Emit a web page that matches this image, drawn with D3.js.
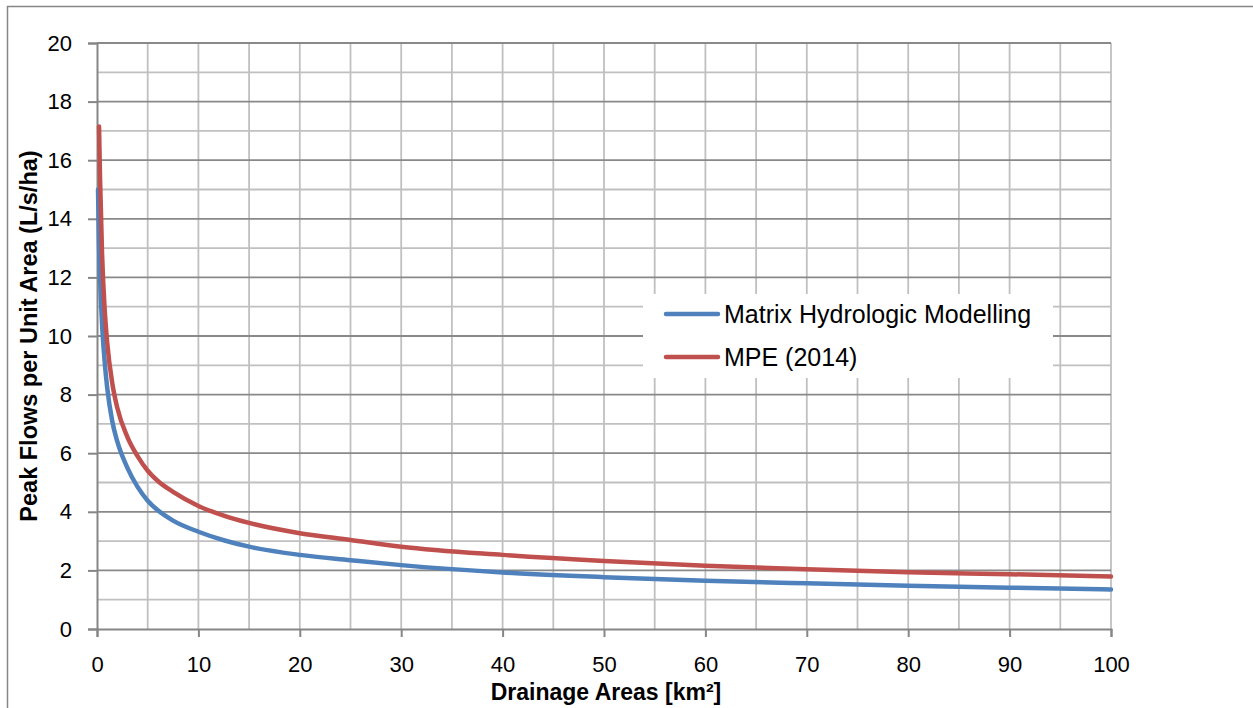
<!DOCTYPE html>
<html>
<head>
<meta charset="utf-8">
<script src="https://cdnjs.cloudflare.com/ajax/libs/d3/7.8.5/d3.min.js"></script>
<style>
  html, body { margin: 0; padding: 0; background: #ffffff; }
  svg { display: block; }
  text { font-family: "Liberation Sans", Arial, sans-serif; fill: #000; }
</style>
</head>
<body>
<svg id="chart" width="1253" height="708"></svg>
<script>
// ---- Data ----
const seriesNames = ["Matrix Hydrologic Modelling", "MPE (2014)"];
const seriesColors = ["#4f81bd", "#c0504d"];

const matrixAreas = [0.1, 0.2, 0.3, 0.5, 0.75, 1, 1.5, 2, 3, 4, 5, 6, 7.5, 10, 12.5, 15, 20, 25, 30, 40, 50, 60, 70, 80, 90, 100];
const matrixFlows = [15.0, 13.1, 12.0, 10.4, 9.15, 8.25, 7.1, 6.4, 5.5, 4.85, 4.38, 4.05, 3.7, 3.32, 3.03, 2.81, 2.53, 2.35, 2.18, 1.93, 1.77, 1.65, 1.56, 1.48, 1.41, 1.35];

const mpeAreas = [0.2, 0.3, 0.5, 0.75, 1, 1.5, 2, 3, 4, 5, 6, 7.5, 10, 12.5, 15, 20, 25, 30, 40, 50, 60, 70, 80, 90, 100];
const mpeFlows = [17.15, 15.4, 12.8, 10.95, 9.8, 8.4, 7.55, 6.55, 5.9, 5.4, 5.05, 4.68, 4.2, 3.87, 3.62, 3.27, 3.04, 2.81, 2.53, 2.32, 2.16, 2.04, 1.94, 1.87, 1.79];

const xTickValues = [0, 10, 20, 30, 40, 50, 60, 70, 80, 90, 100];
const yTickValues = [0, 2, 4, 6, 8, 10, 12, 14, 16, 18, 20];
const xTitle = "Drainage Areas [km²]";
const yTitle = "Peak Flows per Unit Area (L/s/ha)";

// ---- Layout ----
const svg = d3.select("#chart");
const plot = { left: 97, right: 1111, top: 43, bottom: 629 };

const x = d3.scaleLinear().domain([0, 100]).range([plot.left, plot.right]);
const y = d3.scaleLinear().domain([0, 20]).range([plot.bottom, plot.top]);

// outer chart frame
svg.append("rect")
  .attr("x", 7.5).attr("y", 6.5)
  .attr("width", 1300).attr("height", 800)
  .attr("fill", "#fff").attr("stroke", "#868686").attr("stroke-width", 1.5);

// gridlines
const grid = svg.append("g");
grid.selectAll("line.vx").data(d3.range(5, 101, 5)).join("line")
  .attr("x1", d => x(d)).attr("x2", d => x(d))
  .attr("y1", plot.top).attr("y2", plot.bottom)
  .attr("stroke", "#c0c0c0").attr("stroke-width", 1.8);
grid.selectAll("line.hm").data(d3.range(1, 20, 2)).join("line")
  .attr("x1", plot.left).attr("x2", plot.right)
  .attr("y1", d => y(d)).attr("y2", d => y(d))
  .attr("stroke", "#c0c0c0").attr("stroke-width", 1.8);
grid.selectAll("line.hM").data(d3.range(2, 21, 2)).join("line")
  .attr("x1", plot.left).attr("x2", plot.right)
  .attr("y1", d => y(d)).attr("y2", d => y(d))
  .attr("stroke", "#898989").attr("stroke-width", 1.8);

// axes
const yAxis = d3.axisLeft(y).tickValues(yTickValues).tickSize(9).tickPadding(16).tickFormat(d3.format("d"));
const xAxis = d3.axisBottom(x).tickValues(xTickValues).tickSize(8).tickPadding(19).tickFormat(d3.format("d"));

const gy = svg.append("g").attr("transform", `translate(${plot.left},0)`).call(yAxis);
const gx = svg.append("g").attr("transform", `translate(0,${plot.bottom})`).call(xAxis);
[gx, gy].forEach(g => {
  g.select(".domain").attr("stroke", "#868686").attr("stroke-width", 2);
  g.selectAll(".tick line").attr("stroke", "#868686").attr("stroke-width", 2);
  g.selectAll(".tick text").attr("font-size", 22).attr("font-family", "'Liberation Sans', Arial, sans-serif").attr("fill", "#000");
});

// series lines
const line = d3.line().x(d => x(d[0])).y(d => y(d[1])).curve(d3.curveMonotoneX);
const series = [
  d3.zip(matrixAreas, matrixFlows),
  d3.zip(mpeAreas, mpeFlows)
];
svg.append("g").selectAll("path").data(series).join("path")
  .attr("d", line)
  .attr("fill", "none")
  .attr("stroke", (d, i) => seriesColors[i])
  .attr("stroke-width", 4.5)
  .attr("stroke-linejoin", "round")
  .attr("stroke-linecap", "round");

// legend
const lg = svg.append("g");
lg.append("rect").attr("x", 643).attr("y", 294).attr("width", 410).attr("height", 84).attr("fill", "#fff");
const entries = lg.selectAll("g.entry").data(seriesNames).join("g")
  .attr("transform", (d, i) => `translate(0,${314 + i * 43})`);
entries.append("line").attr("x1", 666).attr("x2", 718).attr("y1", 0).attr("y2", 0)
  .attr("stroke", (d, i) => seriesColors[i]).attr("stroke-width", 4.5).attr("stroke-linecap", "round");
entries.append("text").attr("x", 724).attr("y", 0).attr("dy", "0.35em")
  .attr("font-size", 25).text(d => d);

// axis titles
svg.append("text")
  .attr("x", (plot.left + plot.right) / 2 + 2).attr("y", 700)
  .attr("text-anchor", "middle").attr("font-weight", "bold").attr("font-size", 23)
  .text(xTitle);
svg.append("text")
  .attr("transform", `translate(37,${(plot.top + plot.bottom) / 2}) rotate(-90)`)
  .attr("text-anchor", "middle").attr("font-weight", "bold").attr("font-size", 23.5)
  .text(yTitle);
</script>
</body>
</html>
